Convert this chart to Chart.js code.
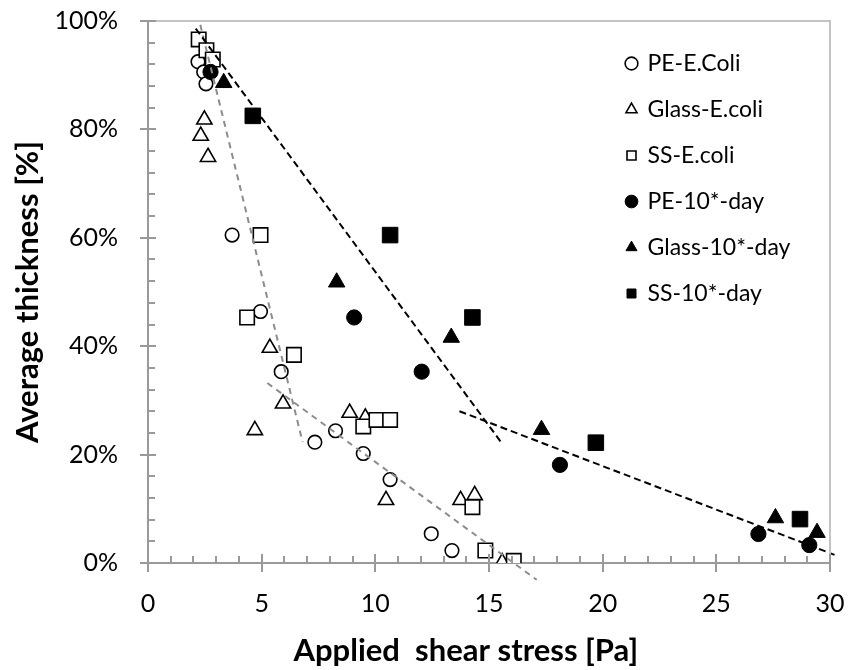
<!DOCTYPE html>
<html>
<head>
<meta charset="utf-8">
<script src="https://cdn.jsdelivr.net/npm/chart.js@4.4.1/dist/chart.umd.min.js"></script>
<style>
  html, body { margin: 0; padding: 0; background: #fff; }
  #wrap { width: 848px; height: 670px; position: relative; }
</style>
</head>
<body>
<div id="wrap"><canvas id="shearChart"></canvas></div>
<script>
// values (x = shear stress [Pa], y = thickness [%])
const peEcoliX = [2.2, 2.45, 2.55, 3.7, 4.95, 5.86, 7.34, 8.25, 9.47, 10.65, 12.46, 13.37];
const peEcoliY = [92.5, 90.6, 88.4, 60.5, 46.4, 35.3, 22.3, 24.4, 20.2, 15.4, 5.4, 2.3];

const glassEcoliX = [2.48, 2.32, 2.64, 5.36, 5.94, 4.7, 8.87, 9.56, 10.47, 13.75, 14.37, 15.58];
const glassEcoliY = [81.8, 78.8, 74.9, 39.7, 29.4, 24.5, 27.7, 26.8, 11.6, 11.6, 12.5, 0.1];

const ssEcoliX = [2.23, 2.57, 2.85, 4.95, 4.36, 6.42, 9.47, 10.05, 10.65, 14.27, 14.84, 16.09];
const ssEcoliY = [96.6, 94.6, 92.9, 60.5, 45.3, 38.4, 25.2, 26.4, 26.4, 10.3, 2.3, 0.4];

const pe10X = [2.75, 9.07, 12.04, 18.12, 26.85, 29.09];
const pe10Y = [90.6, 45.3, 35.3, 18.1, 5.35, 3.3];

const glass10X = [3.33, 8.3, 13.34, 17.31, 27.6, 29.43];
const glass10Y = [88.6, 51.8, 41.6, 24.6, 8.3, 5.6];

const ss10X = [4.61, 10.65, 14.27, 19.7, 28.68];
const ss10Y = [82.5, 60.5, 45.3, 22.2, 8.1];

// hand drawn dashed trend segments
const blackUpperX = [2.1, 15.6];
const blackUpperY = [98.6, 21.9];
const blackLowerX = [13.7, 30.2];
const blackLowerY = [28.0, 1.5];
const greyUpperX = [2.3, 6.8];
const greyUpperY = [99.3, 22.3];
const greyLowerX = [5.25, 17.1];
const greyLowerY = [33.2, -3.1];

const xTicks = [0, 5, 10, 15, 20, 25, 30];
const yTicks = [0, 20, 40, 60, 80, 100];

const xTitle = 'Applied  shear stress [Pa]';
const yTitle = 'Average thickness [%]';

const axisColor = '#9a9a9a';
const frameColor = '#c4c4c4';
const fontFamily = 'Lato, "Open Sans", sans-serif';

function pts(xs, ys) {
  return xs.map((x, i) => ({ x: x, y: ys[i] }));
}

function markerSet(label, xs, ys, style, radius, filled, order) {
  return {
    label: label,
    data: pts(xs, ys),
    pointStyle: style,
    pointRadius: radius,
    pointHoverRadius: radius,
    pointBorderWidth: filled ? 1 : 1.6,
    borderWidth: filled ? 1 : 1.6,
    borderColor: '#000',
    backgroundColor: filled ? '#000' : '#fff',
    showLine: false,
    order: order
  };
}

function trendSet(xs, ys, color, dash) {
  return {
    label: '',
    data: pts(xs, ys),
    showLine: true,
    pointRadius: 0,
    borderColor: color,
    borderWidth: 2,
    borderDash: dash,
    clip: false,
    order: 0
  };
}

// minor / major tick marks like the original axes
const tickMarks = {
  id: 'tickMarks',
  afterDraw(chart) {
    const { ctx, chartArea: a, scales } = chart;
    const x = scales.x, y = scales.y;
    ctx.save();
    // frame on top and right
    ctx.strokeStyle = frameColor;
    ctx.lineWidth = 2;
    ctx.beginPath();
    ctx.moveTo(a.left, a.top);
    ctx.lineTo(a.right, a.top);
    ctx.lineTo(a.right, a.bottom);
    ctx.stroke();

    ctx.strokeStyle = axisColor;
    ctx.lineWidth = 2;
    ctx.beginPath();
    for (let v = x.min; v <= x.max; v += 1) {
      const px = Math.round(x.getPixelForValue(v));
      const major = xTicks.includes(v);
      ctx.moveTo(px, a.bottom + (major ? 9 : 0));
      ctx.lineTo(px, a.bottom - (major ? 9 : 7));
    }
    for (let v = y.min; v <= y.max; v += 4) {
      const py = Math.round(y.getPixelForValue(v));
      const major = yTicks.includes(v);
      ctx.moveTo(a.left - (major ? 8 : 0), py);
      ctx.lineTo(a.left + (major ? 8 : 7), py);
    }
    ctx.stroke();

    // axis titles
    ctx.fillStyle = '#000';
    ctx.font = 'bold 31px ' + fontFamily;
    ctx.textAlign = 'center';
    ctx.textBaseline = 'middle';
    ctx.fillText(xTitle, a.left + a.width * 0.466, a.bottom + 88);
    ctx.translate(28, (a.top + a.bottom) / 2);
    ctx.rotate(-Math.PI / 2);
    ctx.fillText(yTitle, 0, 0);
    ctx.restore();
  }
};

// put the legend inside the plot, upper right
const legendSpot = {
  id: 'legendSpot',
  afterLayout(chart) {
    const lg = chart.legend;
    if (!lg) return;
    const w = lg.width, h = lg.height;
    lg.left = 604;
    lg.top = 29;
    lg.right = lg.left + w;
    lg.bottom = lg.top + h;
  }
};

const hiddenGrid = (len) => ({
  display: true,
  drawOnChartArea: false,
  drawTicks: true,
  tickLength: len,
  color: 'rgba(0,0,0,0)'
});

new Chart(document.getElementById('shearChart'), {
  type: 'scatter',
  data: {
    datasets: [
      markerSet('PE-E.Coli', peEcoliX, peEcoliY, 'circle', 6.8, false, 6),
      markerSet('Glass-E.coli', glassEcoliX, glassEcoliY, 'triangle', 8.8, false, 5),
      markerSet('SS-E.coli', ssEcoliX, ssEcoliY, 'rect', 10.2, false, 4),
      markerSet('PE-10*-day', pe10X, pe10Y, 'circle', 7.6, true, 3),
      markerSet('Glass-10*-day', glass10X, glass10Y, 'triangle', 9.5, true, 2),
      markerSet('SS-10*-day', ss10X, ss10Y, 'rect', 11, true, 1),
      trendSet(blackUpperX, blackUpperY, '#000', [7, 4]),
      trendSet(blackLowerX, blackLowerY, '#000', [7, 4]),
      trendSet(greyUpperX, greyUpperY, '#8c8c8c', [6, 5]),
      trendSet(greyLowerX, greyLowerY, '#8c8c8c', [6, 5])
    ]
  },
  options: {
    responsive: true,
    maintainAspectRatio: false,
    animation: false,
    layout: { padding: { left: 0, top: 21, right: 18, bottom: 0 } },
    plugins: {
      tooltip: { enabled: false },
      legend: {
        position: 'chartArea',
        fullSize: false,
        align: 'start',
        labels: {
          usePointStyle: true,
          boxHeight: 9,
          boxWidth: 9,
          padding: 23,
          color: '#000',
          font: { family: fontFamily, size: 23 },
          filter: (item) => item.text !== '',
          sort: (a, b) => a.datasetIndex - b.datasetIndex
        }
      }
    },
    scales: {
      x: {
        type: 'linear',
        min: 0,
        max: 30,
        grid: hiddenGrid(26),
        border: { display: true, color: axisColor, width: 2 },
        ticks: {
          stepSize: 5,
          padding: 0,
          color: '#000',
          font: { family: fontFamily, size: 25 }
        },
        afterFit(s) { s.height = 107; }
      },
      y: {
        type: 'linear',
        min: 0,
        max: 100,
        grid: hiddenGrid(30),
        border: { display: true, color: axisColor, width: 2 },
        ticks: {
          stepSize: 20,
          padding: 0,
          color: '#000',
          font: { family: fontFamily, size: 25 },
          callback: (v) => v + '%'
        },
        afterFit(s) { s.width = 148; }
      }
    }
  },
  plugins: [tickMarks, legendSpot]
});
</script>
</body>
</html>
